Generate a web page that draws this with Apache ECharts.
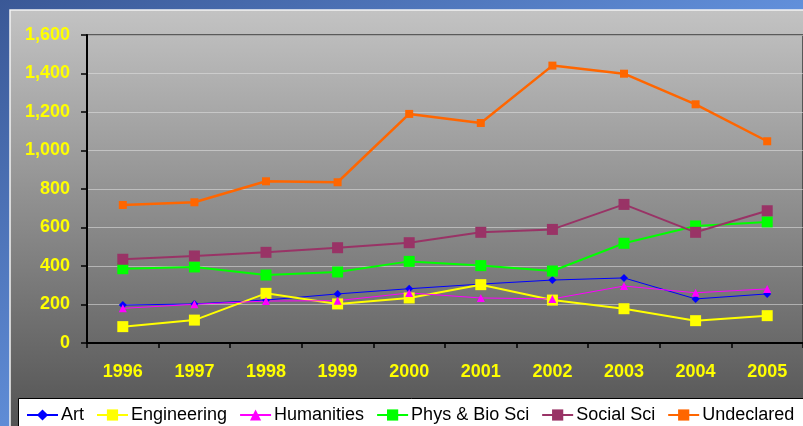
<!DOCTYPE html>
<html>
<head>
<meta charset="utf-8">
<script src="https://cdn.jsdelivr.net/npm/echarts@6/dist/echarts.min.js"></script>
<style>
  html, body { margin: 0; padding: 0; }
  #chart { width: 803px; height: 426px; }
</style>
</head>
<body>
<div id="chart"></div>
<script>
// Enrollment by field, 1996-2005
const years = ['1996', '1997', '1998', '1999', '2000', '2001', '2002', '2003', '2004', '2005'];
const art = [197, 203, 223, 255, 282, 306, 327, 338, 229, 255];
const engineering = [85, 119, 258, 203, 234, 303, 223, 178, 116, 142];
const humanities = [180, 201, 218, 220, 260, 234, 229, 296, 261, 281];
const physBio = [386, 395, 353, 369, 424, 402, 374, 518, 608, 629];
const socialSci = [435, 452, 471, 495, 521, 575, 590, 720, 575, 687];
const undeclared = [717, 731, 840, 835, 1190, 1143, 1441, 1399, 1240, 1048];

const chart = echarts.init(document.getElementById('chart'), null, { renderer: 'canvas' });

function lineSeries(name, data, color, symbol, size, width) {
  return {
    name: name,
    type: 'line',
    data: data,
    symbol: symbol,
    symbolSize: size,
    showSymbol: true,
    animation: false,
    lineStyle: { color: color, width: width },
    itemStyle: { color: color, borderWidth: 0 }
  };
}

chart.setOption({
  animation: false,
  backgroundColor: {
    type: 'linear', x: 0, y: 0, x2: 0.3, y2: 1,
    colorStops: [
      { offset: 0, color: '#3a5896' },
      { offset: 1, color: '#6a9cea' }
    ]
  },
  graphic: [
    {
      type: 'rect', z: -10, silent: true,
      shape: { x: 10, y: 10, width: 800, height: 420 },
      style: {
        fill: {
          type: 'linear', x: 0, y: 0, x2: 0, y2: 1,
          colorStops: [
            { offset: 0, color: '#c3c3c3' },
            { offset: 1, color: '#525252' }
          ]
        },
        stroke: '#f4f4f4', lineWidth: 1.5
      }
    },
    {
      type: 'rect', z: 50, silent: true,
      shape: { x: 18.5, y: 398.5, width: 800, height: 40 },
      style: { fill: '#ffffff', stroke: '#000000', lineWidth: 1 }
    }
  ],
  grid: {
    left: 87, top: 35, right: -4, bottom: 83,
    show: true, borderColor: '#3a3a3a', borderWidth: 1.5,
    backgroundColor: 'transparent'
  },
  legend: {
    left: 21, top: 401, z: 60,
    itemWidth: 31, itemHeight: 14, itemGap: 12,
    textStyle: { color: '#000', fontSize: 18, fontFamily: 'Arial, "Liberation Sans", sans-serif', padding: [0, 0, 0, -2] },
    data: ['Art', 'Engineering', 'Humanities', 'Phys & Bio Sci', 'Social Sci', 'Undeclared']
  },
  xAxis: {
    type: 'category',
    data: years,
    boundaryGap: true,
    axisLine: { lineStyle: { color: '#000', width: 2 } },
    axisTick: { show: true, length: 5, lineStyle: { color: '#000', width: 1.5 } },
    axisLabel: {
      color: '#ffff00', fontSize: 18, fontWeight: 'bold', margin: 20,
      fontFamily: 'Arial, "Liberation Sans", sans-serif'
    },
    splitLine: { show: false }
  },
  yAxis: {
    type: 'value',
    min: 0, max: 1600, interval: 200,
    axisLine: { show: true, lineStyle: { color: '#000', width: 2 } },
    axisTick: { show: true, length: 6, lineStyle: { color: '#000', width: 1.5 } },
    axisLabel: {
      color: '#ffff00', fontSize: 18, fontWeight: 'bold', margin: 17,
      fontFamily: 'Arial, "Liberation Sans", sans-serif',
      formatter: v => v.toLocaleString('en-US')
    },
    splitLine: { show: true, lineStyle: { color: 'rgba(225,225,225,0.55)', width: 1 } }
  },
  series: [
    lineSeries('Art', art, '#0000ff', 'diamond', 8, 1),
    lineSeries('Engineering', engineering, '#ffff00', 'rect', 11, 2),
    lineSeries('Humanities', humanities, '#ff00ff', 'triangle', 8, 1),
    lineSeries('Phys & Bio Sci', physBio, '#00ff00', 'rect', 11, 2),
    lineSeries('Social Sci', socialSci, '#993366', 'rect', 11, 2),
    lineSeries('Undeclared', undeclared, '#ff6600', 'rect', 8, 2.5)
  ]
});
</script>
</body>
</html>
